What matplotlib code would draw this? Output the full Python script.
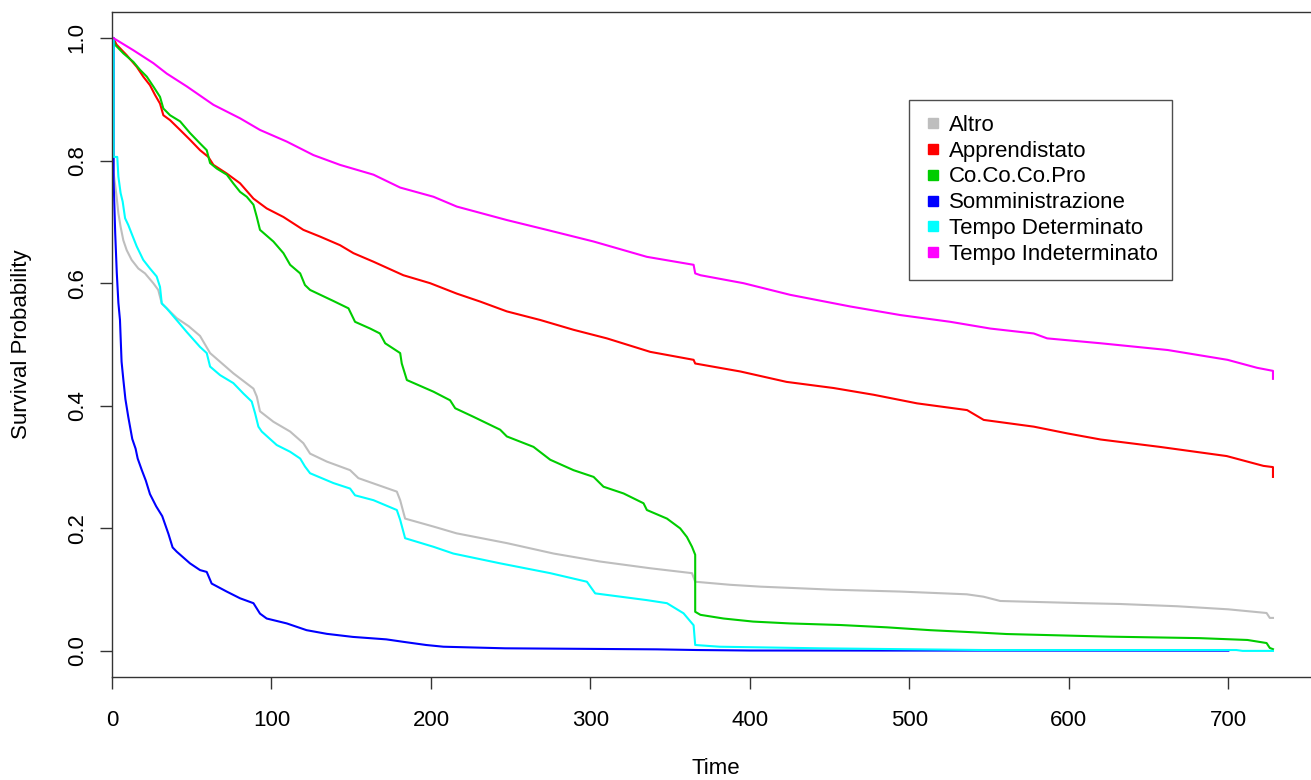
import matplotlib
matplotlib.use("Agg")
import matplotlib.pyplot as plt
from matplotlib.lines import Line2D

plt.rcParams['font.family'] = ['Liberation Sans', 'DejaVu Sans']

# Kaplan-Meier estimates (time in days, survival)
altro_t = [0, 1, 1, 2.9, 4, 5.4, 7.1, 9.2, 12.3, 16.5, 20.7, 25.9, 29, 31.2, 40.6, 48,
           55.2, 61.5, 76.1, 88.7, 90.8, 92.8, 101.2, 111.7, 120, 124.2, 134.7, 149.3,
           154.5, 178.6, 180.7, 183.8, 201.6, 216, 247.6, 276.9, 306, 337.5, 363.7,
           365.7, 387.7, 406.5, 425, 452, 494, 536, 546.5, 557, 609, 632, 668, 700,
           724, 726, 728]
altro_s = [1.0, 1.0, 0.78, 0.741, 0.714, 0.692, 0.670, 0.654, 0.638, 0.624, 0.616, 0.600,
           0.589, 0.567, 0.543, 0.530, 0.514, 0.486, 0.453, 0.428, 0.415, 0.391, 0.374,
           0.358, 0.339, 0.322, 0.309, 0.295, 0.282, 0.260, 0.246, 0.216, 0.203, 0.192,
           0.176, 0.159, 0.146, 0.135, 0.127, 0.113, 0.108, 0.105, 0.103, 0.100, 0.097,
           0.0925, 0.0886, 0.0816, 0.078, 0.0767, 0.073, 0.068, 0.062, 0.054, 0.054]

appr_t = [0, 0.8, 2.9, 9.2, 15.5, 19.6, 23.8, 27, 30.1, 32.2, 36.4, 42.7, 48.9, 55.2,
          60.4, 63.6, 71.9, 80.3, 88.7, 97, 107.5, 120, 130.5, 143, 151.4, 164, 182.7,
          199.5, 216.2, 230.9, 247.6, 268.5, 289.4, 310.3, 337.5, 364.7, 365.7, 394,
          423, 452.5, 477.6, 504.8, 536.2, 546.6, 578, 599, 620, 657, 699, 722, 728, 728]
appr_s = [1.0, 1.0, 0.989, 0.972, 0.953, 0.937, 0.923, 0.907, 0.893, 0.874, 0.866, 0.850,
          0.834, 0.817, 0.806, 0.793, 0.779, 0.763, 0.738, 0.722, 0.708, 0.687, 0.676,
          0.662, 0.649, 0.635, 0.613, 0.600, 0.583, 0.570, 0.554, 0.540, 0.524, 0.510,
          0.488, 0.475, 0.469, 0.456, 0.439, 0.429, 0.418, 0.404, 0.393, 0.377, 0.366,
          0.355, 0.345, 0.333, 0.318, 0.302, 0.300, 0.284]

coco_t = [0, 0.8, 1.9, 7.1, 13.4, 17.6, 21.8, 25.9, 30.1, 32.2, 36.4, 42.7, 48.9, 55.2,
          59.4, 61.5, 65.7, 72, 76, 80.3, 84.5, 88.7, 90.8, 92.8, 101.2, 107.5, 111.7,
          118, 121, 124.2, 138.8, 148.3, 152.4, 161.9, 168, 171.3, 180.7, 181.7, 184.9,
          201.6, 212, 215.2, 226.7, 243.4, 247.6, 264.3, 274.8, 289.4, 302, 308.2, 320.8,
          333.3, 335.4, 348, 356.3, 360.5, 363.7, 365.7, 365.7, 369, 383.5, 402, 425,
          456.7, 486, 513, 544.5, 561, 592.6, 626, 682, 712, 724, 726, 728]
coco_s = [1.0, 0.997, 0.989, 0.975, 0.961, 0.948, 0.937, 0.921, 0.904, 0.885, 0.874, 0.864,
          0.845, 0.828, 0.817, 0.796, 0.787, 0.777, 0.763, 0.749, 0.741, 0.728, 0.708,
          0.687, 0.668, 0.649, 0.630, 0.616, 0.597, 0.589, 0.571, 0.559, 0.537, 0.526,
          0.518, 0.502, 0.486, 0.469, 0.442, 0.423, 0.409, 0.396, 0.382, 0.361, 0.350,
          0.333, 0.312, 0.295, 0.284, 0.268, 0.257, 0.241, 0.230, 0.216, 0.200, 0.186,
          0.170, 0.157, 0.064, 0.059, 0.053, 0.048, 0.045, 0.0424, 0.0386, 0.034, 0.030,
          0.0277, 0.0256, 0.0234, 0.021, 0.018, 0.013, 0.005, 0.003]

somm_t = [0, 1, 1, 1, 2, 3, 4, 5, 6, 7.1, 8.4, 10.2, 12.7, 14.8, 16.1, 18.7, 21.2, 23.8,
          27.7, 31.5, 35.4, 38, 40.6, 48.9, 55.2, 59.4, 62.5, 71.9, 80.3, 88.7, 92.8, 97,
          109.6, 122, 134.7, 151, 172, 182.6, 197, 207.8, 246.5, 341.7, 366.8, 400, 700]
somm_s = [1.0, 1.0, 0.853, 0.768, 0.682, 0.617, 0.568, 0.540, 0.472, 0.443, 0.411, 0.382,
          0.346, 0.330, 0.314, 0.295, 0.278, 0.256, 0.236, 0.220, 0.191, 0.169, 0.162,
          0.143, 0.132, 0.129, 0.110, 0.097, 0.086, 0.078, 0.061, 0.053, 0.045, 0.034,
          0.028, 0.023, 0.019, 0.015, 0.0098, 0.007, 0.0044, 0.0027, 0.0016, 0.0008, 0.0005]

tdet_t = [0, 1, 1, 3.3, 4, 5.4, 6.7, 8.2, 10.2, 12.3, 15.5, 19.6, 23.8, 28, 30.1, 31.2,
          34.3, 39.5, 47, 55.2, 59.4, 61.5, 67.8, 76.1, 82.4, 87.6, 89.7, 91.8, 93.9,
          103.3, 111.7, 118, 121, 124.2, 138.8, 149.3, 152.4, 164, 178.6, 180.7, 183.8,
          201.6, 214, 243.4, 274.8, 297.8, 303, 335.4, 348, 358.4, 364.7, 365.7, 381,
          444, 546, 705, 709, 728]
tdet_s = [1.0, 1.0, 0.806, 0.806, 0.774, 0.747, 0.733, 0.706, 0.695, 0.681, 0.660, 0.638,
          0.624, 0.611, 0.594, 0.567, 0.559, 0.543, 0.520, 0.496, 0.486, 0.464, 0.450,
          0.437, 0.420, 0.407, 0.388, 0.366, 0.358, 0.336, 0.325, 0.314, 0.301, 0.290,
          0.274, 0.265, 0.254, 0.246, 0.230, 0.214, 0.184, 0.170, 0.159, 0.143, 0.127,
          0.113, 0.094, 0.083, 0.078, 0.0615, 0.042, 0.0098, 0.007, 0.0044, 0.0016,
          0.0016, 0.0002, 0.0002]

tind_t = [0, 0.8, 13.4, 25.9, 34.3, 46.9, 63.6, 80.3, 92.8, 109.6, 126.3, 143, 164,
          180.7, 201.6, 216.2, 247.6, 272.7, 302, 335.4, 364.7, 365.7, 369, 396, 425.3,
          463, 494.4, 525.7, 550.8, 578, 586.4, 620, 662, 699.5, 718, 728, 728]
tind_s = [1.0, 1.0, 0.980, 0.959, 0.942, 0.921, 0.891, 0.869, 0.850, 0.831, 0.809, 0.793,
          0.777, 0.756, 0.741, 0.725, 0.703, 0.687, 0.668, 0.643, 0.630, 0.616,
          0.613, 0.600, 0.581, 0.562, 0.548, 0.537, 0.526, 0.518, 0.510, 0.502, 0.491,
          0.475, 0.462, 0.457, 0.444]

labels = ["Altro", "Apprendistato", "Co.Co.Co.Pro", "Somministrazione",
          "Tempo Determinato", "Tempo Indeterminato"]
colors = ["#BEBEBE", "#FF0000", "#00CD00", "#0000FF", "#00FFFF", "#FF00FF"]
series = [(altro_t, altro_s), (appr_t, appr_s), (coco_t, coco_s),
          (somm_t, somm_s), (tdet_t, tdet_s), (tind_t, tind_s)]

fig = plt.figure(figsize=(13.11, 7.8), dpi=100)
ax = fig.add_axes([112 / 1311, 1 - 677 / 780, (1324 - 112) / 1311, 665 / 780])

for (t, s), c in zip(series, colors):
    ax.plot(t, s, color=c, lw=1.5)

ax.set_xlim(0, 760)
ax.set_ylim(-0.0424, 1.0424)
ax.set_xticks(range(0, 701, 100))
ax.set_yticks([0.0, 0.2, 0.4, 0.6, 0.8, 1.0])
ax.set_yticklabels(["0.0", "0.2", "0.4", "0.6", "0.8", "1.0"], rotation=90, va="center")
ax.tick_params(axis="both", length=8.5, width=1, labelsize=16, color="#333333")
ax.tick_params(axis="x", pad=15)
ax.tick_params(axis="y", pad=9)
for sp in ax.spines.values():
    sp.set_color("#333333")
    sp.set_linewidth(1)

# axis titles placed like R's mtext lines
fig.text(716 / 1311, 1 - 768 / 780, "Time", fontsize=16, ha="center", va="center")
fig.text(22 / 1311, 1 - 344 / 780, "Survival Probability", fontsize=16,
         ha="center", va="center", rotation=90)

handles = [Line2D([], [], marker="s", ls="none", color=c, markersize=7.5) for c in colors]
leg = fig.legend(handles, labels, loc="upper left", bbox_to_anchor=(909 / 1311, 1 - 100 / 780),
                 bbox_transform=fig.transFigure, fontsize=16, frameon=True, fancybox=False,
                 borderaxespad=0, borderpad=0.66, labelspacing=0.22, handlelength=0.8,
                 handletextpad=0.32)
leg.get_frame().set_edgecolor("#222222")
leg.get_frame().set_linewidth(1)

fig.savefig("out.png", dpi=100)
